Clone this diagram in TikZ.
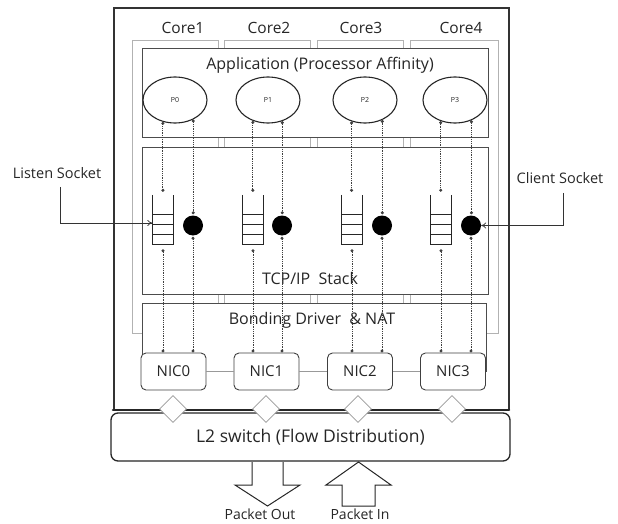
\documentclass[tikz,border=0pt]{standalone}
\usepackage{fontspec}
\setmainfont{Open Sans}
\usetikzlibrary{arrows.meta,shapes.geometric,calc}
\begin{document}
\begin{tikzpicture}[x=1pt,y=-1pt,
  every node/.style={text=black!85},
  corebox/.style={draw=gray!60, line width=0.9pt},
  layer/.style={draw=black!70, fill=white, line width=0.9pt},
  lbl/.style={font=\fontsize{16}{19}\selectfont, inner sep=0pt},
  proc/.style={ellipse, draw=black!85, fill=white, line width=1.1pt, minimum width=64pt, minimum height=46pt, inner sep=0pt, font=\fontsize{7}{8}\selectfont},
  queue/.style={minimum width=21pt, minimum height=49pt, inner sep=0pt},
  qline/.style={line width=1.1pt, draw=black!85},
  sock/.style={circle, fill=black, minimum size=20pt, inner sep=0pt},
  nic/.style={draw=black!75, fill=white, rounded corners=5pt, line width=0.9pt, minimum width=65pt, minimum height=37pt, inner sep=0pt, font=\fontsize{15}{18}\selectfont},
  dl/.style={densely dotted, draw=black!75, line width=0.8pt, {Circle[length=3pt]}-{Circle[length=3pt]}},
  dia/.style={diamond, draw=gray!80, fill=white, line width=0.8pt, minimum size=27pt, inner sep=0pt},
  blockarrow/.style={draw=black!85, fill=white, line width=1pt, line join=miter},
  sockline/.style={draw=black!80, line width=0.7pt, -{To[length=5pt,width=6pt]}},
  sidelbl/.style={font=\fontsize{14.5}{17}\selectfont, inner sep=0pt},
  pktlbl/.style={font=\fontsize{14}{16}\selectfont, inner sep=0pt}
]
\useasboundingbox (0,0) rectangle (618,524);

% outer box
\draw[line width=1.3pt, draw=black!80] (114,410) -- (114,8) -- (509,8) -- (509,410);

% core columns
\draw[corebox] (132,40) rectangle (218,333);
\draw[corebox] (224,40) rectangle (310,333);
\draw[corebox] (317,40) rectangle (403,333);
\draw[corebox] (410,40) rectangle (498,333);
\node[lbl, font=\fontsize{15.5}{18}\selectfont] (c1) at (183,28) {Core1};
\node[lbl, font=\fontsize{15.5}{18}\selectfont] (c2) at (269,28) {Core2};
\node[lbl, font=\fontsize{15.5}{18}\selectfont] (c3l) at (361,28) {Core3};
\node[lbl, font=\fontsize{15.5}{18}\selectfont] (c4) at (461,28) {Core4};

% layers
\draw[layer] (142,48) rectangle (488,137);
\node[lbl] (app) at (320,65) {Application (Processor Affinity)};
\draw[layer] (142,147) rectangle (488,294);
\node[lbl] (tcp) at (310,278) {TCP/IP\ \ Stack};
\fill[white] (142,303) rectangle (486,372);
\draw[draw=black!70, line width=0.9pt] (142,372) -- (142,303) -- (486,303) -- (486,372);
\node[lbl] (bond) at (312,320) {Bonding Driver\ \ \& NAT};

% processes
\node[proc] (p0) at (175,100) {P0};
\node[proc] (p1) at (268,100) {P1};
\node[proc] (p2) at (365,100) {P2};
\node[proc] (p3) at (455,100) {P3};

% queues and sockets
\node[queue] (q0) at (163,219.5) {};
\node[queue] (q1) at (253,219.5) {};
\node[queue] (q2) at (352,219.5) {};
\node[queue] (q3) at (441,219.5) {};
\foreach \n in {q0,q1,q2,q3} {
  \draw[qline] (\n.north west) -- (\n.south west) -- (\n.south east) -- (\n.north east);
  \foreach \f in {0.4,0.6,0.8}
    \draw[qline] ($(\n.north west)!\f!(\n.south west)$) -- ($(\n.north east)!\f!(\n.south east)$);
}
\node[sock] (s0) at (193,225.5) {};
\node[sock] (s1) at (282,225.5) {};
\node[sock] (s2) at (382,225.5) {};
\node[sock] (s3) at (471,225.5) {};

% NICs
\node[nic] (n0) at (173.5,371.5) {NIC0};
\node[nic] (n1) at (266.5,371.5) {NIC1};
\node[nic] (n2) at (360,371.5) {NIC2};
\node[nic] (n3) at (453,371.5) {NIC3};
\draw[draw=gray!80, line width=0.9pt] (n0) -- (n1);
\draw[draw=gray!80, line width=0.9pt] (n1) -- (n2);
\draw[draw=gray!80, line width=0.9pt] (n2) -- (n3);

% dotted links
\draw[dl, shorten >=3pt] (p0.241) -- (p0.241 |- q0.north);
\draw[dl, shorten >=1pt] (p0.313) -- (p0.313 |- s0.north);
\draw[dl, shorten <=5pt] (q0.south) -- (q0.south |- n0.north);
\draw[dl, shorten <=1pt] (s0.south) -- (s0.south |- n0.north);
\draw[dl, shorten >=3pt] (p1.234) -- (p1.234 |- q1.north);
\draw[dl, shorten >=1pt] (p1.304) -- (p1.304 |- s1.north);
\draw[dl, shorten <=5pt] (q1.south) -- (q1.south |- n1.north);
\draw[dl, shorten <=1pt] (s1.south) -- (s1.south |- n1.north);
\draw[dl, shorten >=3pt] (p2.238) -- (p2.238 |- q2.north);
\draw[dl, shorten >=1pt] (p2.311) -- (p2.311 |- s2.north);
\draw[dl, shorten <=5pt] (q2.south) -- (q2.south |- n2.north);
\draw[dl, shorten <=1pt] (s2.south) -- (s2.south |- n2.north);
\draw[dl, shorten >=3pt] (p3.236) -- (p3.236 |- q3.north);
\draw[dl, shorten >=1pt] (p3.309) -- (p3.309 |- s3.north);
\draw[dl, shorten <=5pt] (q3.south) -- (q3.south |- n3.north);
\draw[dl, shorten <=1pt] (s3.south) -- (s3.south |- n3.north);

% sockets labels
\node[sidelbl] (listen) at (57,173) {Listen Socket};
\node[sidelbl] (client) at (560,178) {Client Socket};
\draw[sockline] ([xshift=3pt,yshift=-8pt]listen.south) |- ([yshift=-3.5pt]q0.west);
\draw[sockline] ([xshift=3pt,yshift=-9pt]client.south) |- (s3.east);

% L2 switch
\node[draw=black!85, fill=white, line width=1.3pt, rounded corners=7pt, minimum width=399pt, minimum height=48pt, inner sep=0pt, font=\fontsize{17.5}{21}\selectfont] (l2) at (310.5,437) {L2 switch (Flow Distribution)};
\draw[line width=2.6pt, draw=black!85, line cap=round] (113,410) -- (509,410);
\node[dia] (d0) at (173,409) {};
\node[dia] (d1) at (266,409) {};
\node[dia] (d2) at (358,409) {};
\node[dia] (d3) at (452,409) {};

% packet arrows
\draw[blockarrow] (252,462) -- (252,485) -- (235,485) -- (267.5,506) -- (300,485) -- (283,485) -- (283,462);
\draw[blockarrow] (342,506) -- (342,485) -- (326,485) -- (358.5,462) -- (391,485) -- (375,485) -- (375,506) -- cycle;
\node[pktlbl] (pout) at (260,514) {Packet Out};
\node[pktlbl] (pin) at (360,514) {Packet In};
\end{tikzpicture}
\end{document}
